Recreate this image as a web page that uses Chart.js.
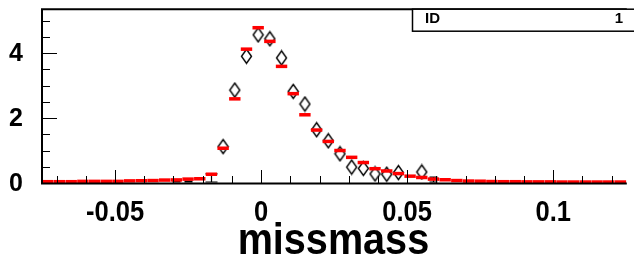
<!DOCTYPE html>
<html>
<head>
<meta charset="utf-8">
<script src="https://cdn.jsdelivr.net/npm/chart.js@4.4.1/dist/chart.umd.min.js"></script>
<style>
  html, body { margin: 0; padding: 0; background: #fff; }
</style>
</head>
<body>
<canvas id="chart" width="634" height="261"></canvas>
<script>
// bins of 0.004 from -0.075 to 0.125 (centres)
const binCenters = [
  -0.073, -0.069, -0.065, -0.061, -0.057, -0.053, -0.049, -0.045, -0.041, -0.037,
  -0.033, -0.029, -0.025, -0.021, -0.017, -0.013, -0.009, -0.005, -0.001, 0.003,
  0.007, 0.011, 0.015, 0.019, 0.023, 0.027, 0.031, 0.035, 0.039, 0.043,
  0.047, 0.051, 0.055, 0.059, 0.063, 0.067, 0.071, 0.075, 0.079, 0.083,
  0.087, 0.091, 0.095, 0.099, 0.103, 0.107, 0.111, 0.115, 0.119, 0.123
];
// red histogram (fit / MC), one value per bin
const fitValues = [
  0.04, 0.04, 0.04, 0.05, 0.05, 0.05, 0.05, 0.065, 0.07, 0.075,
  0.09, 0.095, 0.12, 0.13, 0.27, 1.07, 2.59, 4.12, 4.78, 4.36,
  3.59, 2.75, 2.10, 1.63, 1.28, 1.00, 0.79, 0.63, 0.44, 0.37,
  0.29, 0.21, 0.17, 0.12, 0.10, 0.075, 0.06, 0.055, 0.045, 0.04,
  0.04, 0.035, 0.035, 0.035, 0.03, 0.03, 0.03, 0.03, 0.03, 0.03
];
// measured points (open diamonds)
const dataBins = [
  -0.013, -0.009, -0.005, -0.001, 0.003, 0.007, 0.011, 0.015, 0.019,
  0.023, 0.027, 0.031, 0.035, 0.039, 0.043, 0.047, 0.055
];
const dataValues = [
  1.12, 2.86, 3.90, 4.56, 4.44, 3.85, 2.82, 2.43, 1.64,
  1.30, 0.90, 0.49, 0.45, 0.28, 0.27, 0.32, 0.34
];
// error bars visible on near-empty bins
const errBins = [-0.029, -0.025, -0.017, 0.059];
const errHigh = [0.05, 0.06, 0.28, 0.18];

const xTickValues = [-0.05, 0, 0.05, 0.1];
const xTickLabels = ["-0.05", "0", "0.05", "0.1"];
const yTickValues = [0, 2, 4];
const yTickLabels = ["0", "2", "4"];
const xTitle = "missmass";
const statsName = "ID";
const statsValue = "1";

const FONT = "'Liberation Sans', Arial, Helvetica, sans-serif";

function makeDiamond(w, h, lw) {
  const c = document.createElement("canvas");
  c.width = w + 3;
  c.height = h + 3;
  const g = c.getContext("2d");
  g.strokeStyle = "#000";
  g.lineWidth = lw;
  g.lineJoin = "miter";
  g.beginPath();
  g.moveTo(c.width / 2, 1.5);
  g.lineTo(c.width - 1.5, c.height / 2);
  g.lineTo(c.width / 2, c.height - 1.5);
  g.lineTo(1.5, c.height / 2);
  g.closePath();
  g.stroke();
  return c;
}

function scaledText(ctx, text, x, y, sx) {
  ctx.save();
  ctx.translate(x, y);
  ctx.scale(sx, 1);
  ctx.fillText(text, 0, 0);
  ctx.restore();
}

// ROOT-like frame, inward ticks, labels and the stats box
const framePlugin = {
  id: "frame",
  beforeDatasetsDraw(chart) {
    const { ctx, scales: { x, y } } = chart;
    ctx.save();
    ctx.strokeStyle = "#000";
    ctx.lineWidth = 1.2;
    errBins.forEach((b, i) => {
      const px = Math.round(x.getPixelForValue(b)) + 0.5;
      const top = y.getPixelForValue(errHigh[i]);
      const bot = y.getPixelForValue(0) - 1;
      const cap = errHigh[i] > 0.2 ? 6 : 4;
      ctx.beginPath();
      ctx.moveTo(px, top); ctx.lineTo(px, bot);
      ctx.moveTo(px - cap, top); ctx.lineTo(px + cap, top);
      ctx.moveTo(px - cap, bot); ctx.lineTo(px + cap, bot);
      ctx.stroke();
    });
    ctx.restore();
  },
  afterDraw(chart) {
    const { ctx, chartArea: a, scales: { x, y } } = chart;
    ctx.save();
    ctx.strokeStyle = "#000";

    // ticks on x axis (inside)
    ctx.lineWidth = 1;
    for (let k = -7; k <= 12; k++) {
      const px = Math.round(x.getPixelForValue(k * 0.01)) + 0.5;
      const len = k % 5 === 0 ? 13 : 7;
      ctx.beginPath();
      ctx.moveTo(px, a.bottom);
      ctx.lineTo(px, a.bottom - len);
      ctx.stroke();
    }
    // ticks on y axis (inside)
    for (let k = 1; k <= 10; k++) {
      const py = Math.round(y.getPixelForValue(k * 0.5)) + 0.5;
      const len = k % 4 === 0 ? 15 : 8;
      ctx.beginPath();
      ctx.moveTo(a.left, py);
      ctx.lineTo(a.left + len, py);
      ctx.stroke();
    }

    // frame
    ctx.lineWidth = 2;
    ctx.beginPath();
    ctx.moveTo(a.right + 2, a.top);
    ctx.lineTo(a.left, a.top);
    ctx.lineTo(a.left, a.bottom + 0.5);
    ctx.lineTo(a.right + 2, a.bottom + 0.5);
    ctx.stroke();

    // stats box
    ctx.fillStyle = "#fff";
    ctx.fillRect(412, a.top, 240, 22);
    ctx.lineWidth = 1.5;
    ctx.strokeRect(412.5, a.top, 240, 22);
    ctx.fillStyle = "#000";
    ctx.font = "bold 15px " + FONT;
    ctx.textBaseline = "alphabetic";
    ctx.textAlign = "left";
    ctx.fillText(statsName, 425, 23);
    ctx.textAlign = "right";
    ctx.fillText(statsValue, 623, 23);

    // y labels
    ctx.font = "bold 25px " + FONT;
    ctx.textAlign = "right";
    ctx.textBaseline = "middle";
    yTickValues.forEach((v, i) => {
      ctx.fillText(yTickLabels[i], 23, y.getPixelForValue(v) + 1);
    });

    // x labels
    ctx.font = "bold 29px " + FONT;
    ctx.textAlign = "center";
    ctx.textBaseline = "alphabetic";
    xTickValues.forEach((v, i) => {
      scaledText(ctx, xTickLabels[i], x.getPixelForValue(v), 221, 0.88);
    });

    // axis title
    ctx.font = "bold 44px " + FONT;
    scaledText(ctx, xTitle, (a.left + a.right) / 2, 254, 0.9);
    ctx.restore();
  }
};

const ctx = document.getElementById("chart").getContext("2d");
const chart = new Chart(ctx, {
  type: "scatter",
  data: {
    datasets: [
      {
        label: "fit",
        data: binCenters.map((b, i) => ({ x: b, y: fitValues[i] })),
        pointStyle: "line",
        pointRadius: 5.7,
        pointHoverRadius: 5.7,
        pointBorderColor: "#ff0000",
        pointBorderWidth: 3.5,
        showLine: false,
        clip: false,
      },
      {
        label: "data",
        data: dataBins.map((b, i) => ({ x: b, y: dataValues[i] })),
        pointStyle: makeDiamond(10, 14, 1.4),
        pointRadius: 7,
        showLine: false,
      },
    ],
  },
  options: {
    responsive: false,
    animation: false,
    devicePixelRatio: 1,
    layout: { padding: { left: 42, top: 6, right: 0, bottom: 78 } },
    plugins: {
      legend: { display: false },
      tooltip: { enabled: false },
    },
    scales: {
      x: { type: "linear", display: false, min: -0.075, max: 0.1245 },
      y: { type: "linear", display: false, min: 0, max: 5.35 },
    },
  },
  plugins: [framePlugin],
});
</script>
</body>
</html>
